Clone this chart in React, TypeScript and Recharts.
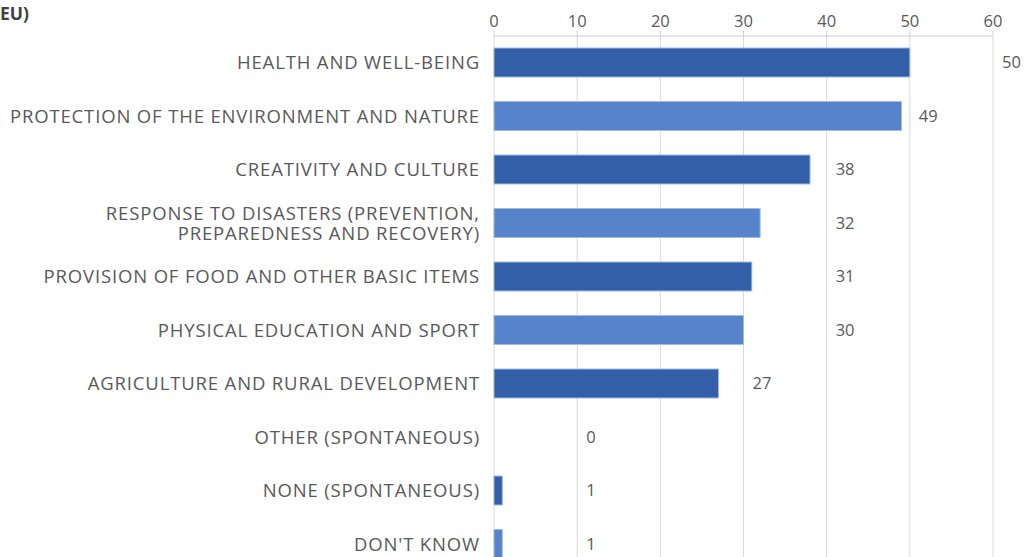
import React from "react";
import { BarChart, Bar, XAxis, YAxis, CartesianGrid, Cell, LabelList } from "recharts";

const categories = [
  "HEALTH AND WELL-BEING",
  "PROTECTION OF THE ENVIRONMENT AND NATURE",
  "CREATIVITY AND CULTURE",
  "RESPONSE TO DISASTERS (PREVENTION,\nPREPAREDNESS AND RECOVERY)",
  "PROVISION OF FOOD AND OTHER BASIC ITEMS",
  "PHYSICAL EDUCATION AND SPORT",
  "AGRICULTURE AND RURAL DEVELOPMENT",
  "OTHER (SPONTANEOUS)",
  "NONE (SPONTANEOUS)",
  "DON'T KNOW",
];
const values = [50, 49, 38, 32, 31, 30, 27, 0, 1, 1];
const xTicks = [0, 10, 20, 30, 40, 50, 60];

const DARK = "#335ea8";
const LIGHT = "#5683c9";
const TEXT = "#595959";
const FONT = "'Open Sans', 'Noto Sans', sans-serif";

// value labels sit just past the next gridline, like the original
const chartData = categories.map((name, i) => ({
  name,
  value: values[i],
  gap: (Math.floor(values[i] / 10) + 1) * 10 - values[i],
}));

const CategoryTick = (props: any) => {
  const { x, y, payload } = props;
  const lines = String(payload.value).split("\n");
  const lh = 20;
  const start = -((lines.length - 1) * lh) / 2;
  return (
    <text
      x={x}
      y={y}
      textAnchor="end"
      fill={TEXT}
      fontSize={18.5}
      letterSpacing={0.85}
      fontFamily={FONT}
    >
      {lines.map((l, i) => (
        <tspan key={i} x={x} dy={i === 0 ? start + 6.5 : lh}>
          {l}
        </tspan>
      ))}
    </text>
  );
};

const App = () => {
  return (
    <div style={{ position: "absolute", left: 0, top: 0, width: 1030, height: 557, overflow: "hidden", background: "#fff" }}>
      <div style={{ position: "absolute", left: 0, top: 1, fontFamily: FONT, fontWeight: 700, fontSize: 17.5, color: "#404040" }}>
        EU)
      </div>
      <BarChart
        width={1030}
        height={571}
        data={chartData}
        layout="vertical"
        margin={{ top: 6, right: 37, bottom: 0, left: 0 }}
        barSize={29}
      >
        <CartesianGrid horizontal={false} stroke="#d9d9d9" />
        <XAxis
          type="number"
          orientation="top"
          domain={[0, 60]}
          ticks={xTicks}
          height={30}
          tickSize={5}
          tickMargin={4}
          axisLine={{ stroke: "#d0d0d0" }}
          tickLine={{ stroke: "#d0d0d0" }}
          tick={{ fill: TEXT, fontSize: 16.5, fontFamily: FONT }}
        />
        <YAxis
          type="category"
          dataKey="name"
          width={494}
          axisLine={false}
          tickLine={false}
          tickSize={0}
          tickMargin={14}
          interval={0}
          tick={<CategoryTick />}
        />
        <Bar dataKey="value" stackId="a" isAnimationActive={false} stroke="#9fbbe6" strokeWidth={1}>
          {chartData.map((_, i) => (
            <Cell key={i} fill={i % 2 === 0 ? DARK : LIGHT} />
          ))}
        </Bar>
        <Bar dataKey="gap" stackId="a" fill="transparent" isAnimationActive={false}>
          <LabelList dataKey="value" position="right" offset={9} fill={TEXT} fontSize={16.5} fontFamily={FONT} />
        </Bar>
      </BarChart>
    </div>
  );
};

export default App;
